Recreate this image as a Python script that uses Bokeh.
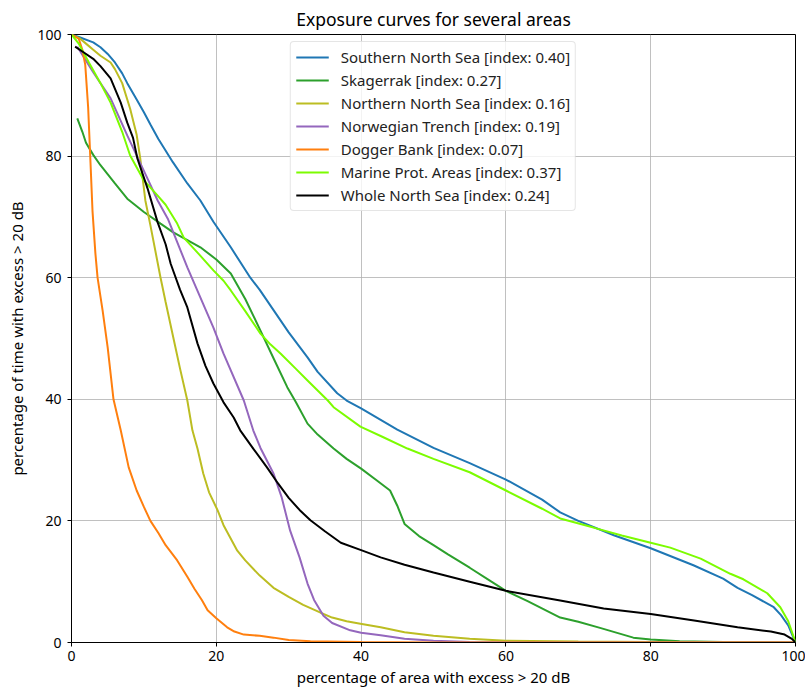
from bokeh.plotting import figure
from bokeh.models import Legend, LegendItem, Range1d, FixedTicker
from bokeh.embed import file_html
from bokeh.resources import INLINE

# ---------------- data ----------------
names = ["Southern North Sea [index: 0.40]", "Skagerrak [index: 0.27]",
         "Northern North Sea [index: 0.16]", "Norwegian Trench [index: 0.19]",
         "Dogger Bank [index: 0.07]", "Marine Prot. Areas [index: 0.37]",
         "Whole North Sea [index: 0.24]"]
colors = ["#1f77b4", "#2ca02c", "#bcbd22", "#9467bd", "#ff7f0e", "#7cfc00", "#000000"]

sns_x = [0, 1.2, 3, 4, 5, 6, 7, 7.7, 9, 10, 10.9, 12, 14, 16, 17.8, 19.6, 22, 24.7, 26, 28, 30, 32.6, 34,
         36.7, 38, 40, 45, 50, 55, 60, 65, 67.5, 70, 75, 80, 85.9, 90, 92, 94, 97, 98, 99, 100]
sns_y = [100, 99.5, 98.7, 97.9, 96.8, 95.4, 93.6, 92, 89.3, 87.2, 85.2, 82.8, 79, 75.5, 72.7, 69.2,
         65, 60, 58, 54.5, 51, 46.9, 44.5, 41, 39.8, 38.5, 35, 32, 29.5, 26.8, 23.5, 21.4, 20, 17.6,
         15.5, 12.7, 10.5, 9, 7.8, 5.8, 4.5, 2.8, 0]

skg_x = [0.8, 1.5, 2, 3, 4, 6, 7.7, 10, 12.3, 14, 16, 17.8, 20, 22, 24, 26.1, 28, 29.8, 31, 32.6, 34,
         36.2, 38, 40, 42, 44, 45, 46, 48, 50, 52, 55, 58, 60, 63, 67.5, 70, 73, 77.6, 80, 84, 90, 100]
skg_y = [86.2, 84, 82.2, 80.2, 78.5, 75.5, 73, 70.8, 68.9, 67.5, 66.2, 65, 63, 60.7, 56.5, 51.3,
         46.5, 42, 39.5, 36, 34.2, 31.9, 30.2, 28.6, 26.8, 25, 22.5, 19.5, 17.5, 16, 14.5, 12.3, 10,
         8.5, 6.8, 4.1, 3.4, 2.4, 0.8, 0.5, 0.2, 0.1, 0]

nns_x = [0, 1.2, 2, 3, 4, 5.4, 6, 7, 8.1, 9, 9.5, 10.2, 10.9, 12.3, 13, 14, 15, 16, 16.7, 17.4, 18.2,
         19, 20.2, 21, 22.9, 24, 26, 27.9, 30, 32, 34.4, 36, 38, 39.9, 42.7, 46, 50, 55, 60, 70, 80, 100]
nns_y = [100, 99.3, 98.5, 97.5, 96.5, 95.4, 94.3, 92, 87.8, 83.5, 79.6, 72.7, 68.6, 60, 56, 50.5,
         45, 39.8, 34.9, 31.9, 27.8, 24.7, 21.7, 19.3, 15.1, 13.5, 11, 9, 7.5, 6.2, 4.9, 4.1, 3.5,
         3.1, 2.5, 1.7, 1.1, 0.6, 0.3, 0.15, 0.1, 0]

nwt_x = [0.8, 3, 5.4, 7.7, 10.5, 11.9, 13.3, 16, 19.6, 21, 23.8, 25.1, 26.1, 27.9, 29, 30.2, 31.5,
         32.6, 33.5, 34.8, 36, 38.5, 40, 42.7, 46, 50, 55, 60, 100]
nwt_y = [98, 93.8, 89.5, 83.4, 76.3, 72.7, 69.7, 61.7, 51.8, 47.5, 39.8, 34.9, 32, 27.8, 24, 18.4,
         14, 9.7, 7, 4.4, 3.2, 2, 1.6, 1.2, 0.6, 0.3, 0.1, 0, 0]

dgb_x = [0, 1, 1.5, 1.9, 2.3, 2.6, 2.9, 3.3, 3.6, 4.3, 5, 5.8, 6.8, 7.9, 9, 10, 10.9, 12, 13,
         14.6, 16, 17, 18, 18.8, 20, 21.5, 22.5, 23.8, 26, 27.9, 30, 33, 40, 50, 100]
dgb_y = [100, 99.3, 97.5, 95, 88, 79.6, 71, 64, 60, 54.6, 48.5, 40, 34.9, 28.8, 25, 22.3, 20, 18,
         16, 13.5, 10.8, 8.8, 7, 5.3, 4, 2.5, 1.8, 1.3, 1.1, 0.8, 0.4, 0.2, 0.1, 0, 0]

mpa_x = [0, 1, 2.4, 4, 5.4, 7, 8.1, 10, 11.9, 13, 14.6, 15.5, 17.5, 19.6, 21, 22, 24, 26.1, 27.5,
         28.9, 31, 32.6, 35.4, 36.2, 39.9, 43, 46.4, 50, 55, 60, 65, 67.5, 72.1, 76, 80, 82.7, 86.9,
         91, 92.8, 96.1, 97.9, 99, 100]
mpa_y = [100, 98.5, 95.4, 92, 88.8, 84, 80.1, 76, 73.5, 72, 68.9, 66.6, 64, 61.2, 59.5, 57.9, 54.5,
         50.8, 49, 47.5, 45, 43.1, 39.8, 38.7, 35.5, 33.8, 31.9, 30.2, 28, 25, 22, 20.4, 18.9, 17.6,
         16.4, 15.6, 13.8, 11.3, 10.4, 8.1, 5.8, 3.5, 0]

wns_x = [0.5, 1.5, 3, 4, 5.4, 6.8, 7.7, 8.5, 9.1, 10.5, 11.9, 13, 13.7, 15, 16, 17.4, 18.5, 19.6,
         21, 22.4, 23.3, 25.1, 27, 28.5, 30, 31.5, 33, 35, 37.2, 40, 42.7, 46, 50, 55, 60, 67.5,
         73.5, 80, 86, 92, 96.6, 98.5, 99.5, 100]
wns_y = [98, 97.2, 96, 94.8, 92.8, 88.8, 85.5, 83, 79.6, 74.7, 69.1, 65.5, 62.3, 58, 55.1, 49.2,
         45.5, 42.6, 39.5, 37, 34.9, 31.9, 28.8, 26.2, 23.8, 21.8, 20.1, 18.3, 16.4, 15.2, 14, 12.8,
         11.5, 10, 8.5, 6.9, 5.6, 4.7, 3.6, 2.5, 1.8, 1.3, 0.6, 0]

xticks = [0, 20, 40, 60, 80, 100]
yticks = [0, 20, 40, 60, 80, 100]

series = [(sns_x, sns_y), (skg_x, skg_y), (nns_x, nns_y), (nwt_x, nwt_y),
          (dgb_x, dgb_y), (mpa_x, mpa_y), (wns_x, wns_y)]

FONT = "Noto Sans"

p = figure(width=805, height=690, x_range=Range1d(0, 100), y_range=Range1d(0, 100),
           output_backend="svg", toolbar_location=None,
           title="Exposure curves for several areas")
p.min_border_left = 71
p.min_border_right = 10
p.min_border_top = 34
p.min_border_bottom = 48

p.title.align = "center"
p.title.text_font = FONT
p.title.text_font_size = "17.5px"
p.title.text_font_style = "normal"
p.title.text_color = "#000000"
p.title.standoff = 7

p.outline_line_color = "black"
p.outline_line_width = 1
p.outline_line_alpha = 1

for ax, ticks, lab in [(p.xaxis[0], xticks, "percentage of area with excess > 20 dB"),
                       (p.yaxis[0], yticks, "percentage of time with excess > 20 dB")]:
    ax.ticker = FixedTicker(ticks=ticks)
    ax.axis_label = lab
    ax.axis_label_text_font = FONT
    ax.axis_label_text_font_size = "15px"
    ax.axis_label_text_font_style = "normal"
    ax.axis_label_text_color = "#000000"
    ax.major_label_text_font = FONT
    ax.major_label_text_font_size = "14px"
    ax.major_label_text_color = "#000000"
    ax.major_tick_out = 4
    ax.major_tick_in = 0
    ax.minor_tick_out = 0
    ax.minor_tick_in = 0
    ax.axis_line_color = "black"
    ax.major_tick_line_color = "black"

p.xaxis[0].major_label_standoff = 4
p.xaxis[0].axis_label_standoff = 3
p.yaxis[0].major_label_standoff = 6
p.yaxis[0].axis_label_standoff = 7

p.grid.grid_line_color = "#b0b0b0"
p.grid.grid_line_width = 0.8
p.xgrid.ticker = FixedTicker(ticks=xticks)
p.ygrid.ticker = FixedTicker(ticks=yticks)

items = []
for (xs, ys), c, n in zip(series, colors, names):
    r = p.line(xs, ys, line_color=c, line_width=2)
    items.append(LegendItem(label=n, renderers=[r]))

legend = Legend(items=items, location="top_center")
legend.margin = 7
legend.padding = 5
legend.spacing = 3
legend.glyph_width = 33
legend.glyph_height = 20
legend.label_height = 20
legend.label_standoff = 12
legend.label_text_font = FONT
legend.label_text_font_size = "15px"
legend.label_text_color = "#222222"
legend.border_line_color = "#cccccc"
legend.border_line_width = 1
legend.background_fill_alpha = 0.8
if "border_radius" in Legend.properties():
    legend.border_radius = 4
p.add_layout(legend, "center")

open("out.html", "w").write(file_html(p, INLINE))
